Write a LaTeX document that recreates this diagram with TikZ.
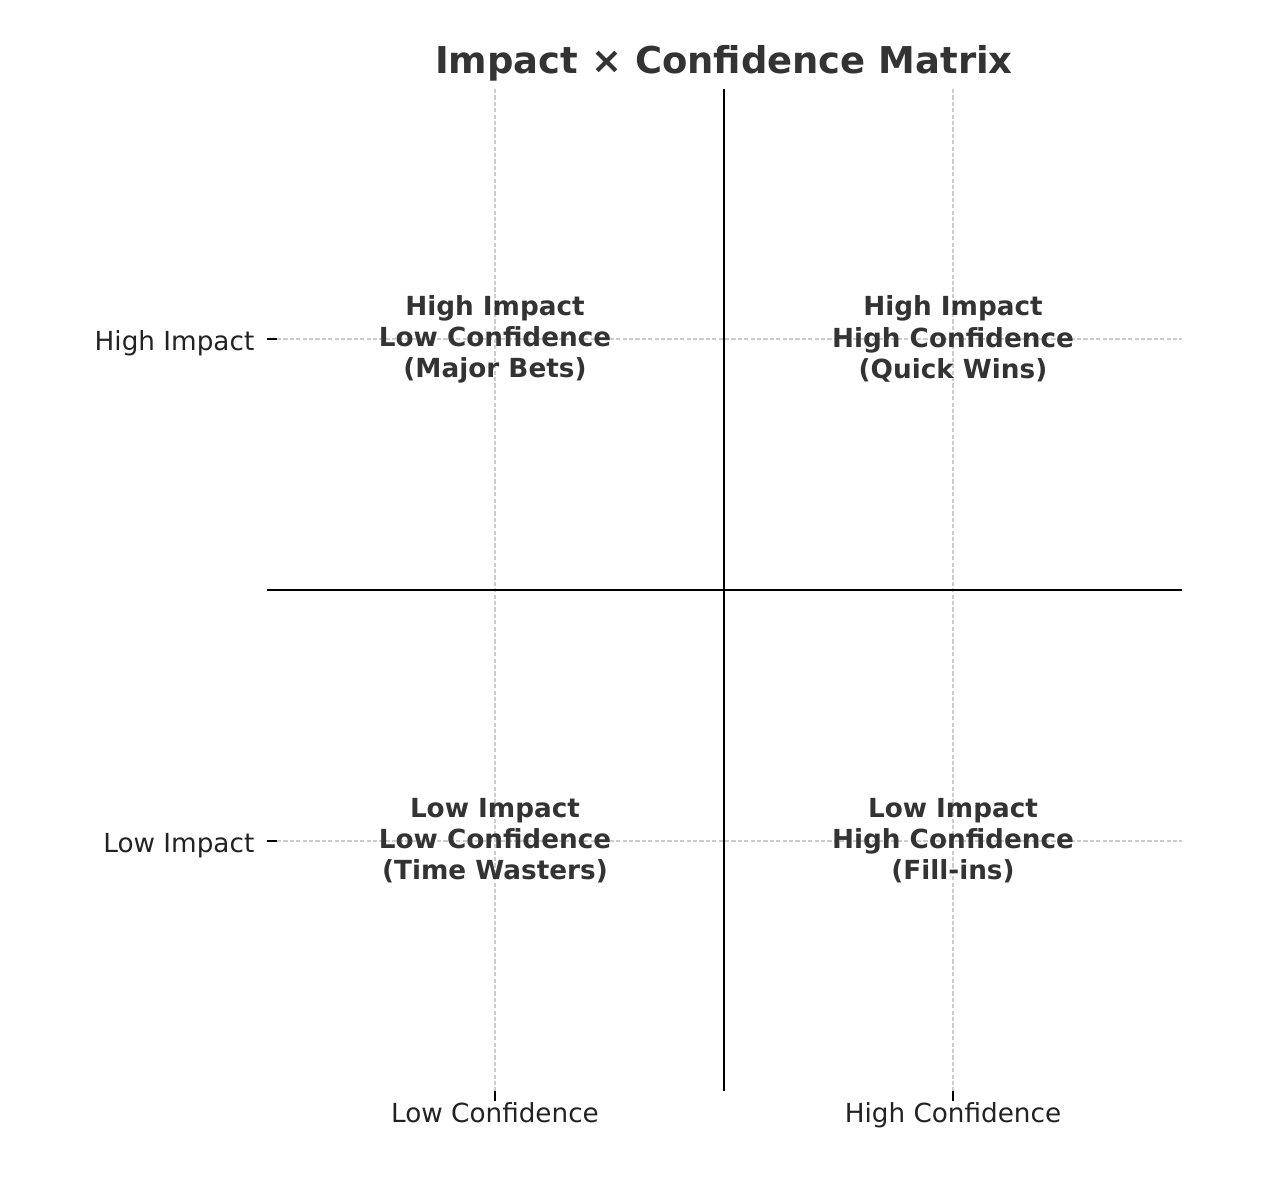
\documentclass[tikz,border=0pt]{standalone}
\usepackage{fontspec}
\setmainfont{DejaVu Sans}
\definecolor{txtgray}{HTML}{333333}
\definecolor{gridgray}{HTML}{CCCCCC}
\definecolor{ticktxt}{HTML}{222222}
\tikzset{
  quadlabel/.style={align=center, text=txtgray,
    font=\fontsize{19.7}{23.3}\selectfont\bfseries},
  ticklabel/.style={text=ticktxt, font=\fontsize{19.7}{23.3}\selectfont},
  gridline/.style={gridgray, line width=0.8pt, dash pattern=on 3.2pt off 1.6pt},
  axisline/.style={black, line width=1.5pt},
  tickmark/.style={black, line width=0.9pt}
}
\begin{document}
\begin{tikzpicture}[x=0.75pt, y=-0.75pt]
  \useasboundingbox (0,0) rectangle (1280,1184);

  % Title
  \node[font=\fontsize{27.7}{32}\selectfont\bfseries, text=txtgray] (title) at (724,63) {Impact × Confidence Matrix};

  % Grid
  \foreach \x in {495,953}
    \draw[gridline] (\x,89) -- (\x,1091);
  \foreach \y in {339,841}
    \draw[gridline] (277,\y) -- (1182,\y);

  % Axes
  \coordinate (left) at (267,590);
  \coordinate (right) at (1182,590);
  \coordinate (top) at (724,89);
  \coordinate (bottom) at (724,1091);
  \draw[axisline] (left) -- (right);
  \draw[axisline] (top) -- (bottom);

  % Ticks and tick labels
  \foreach \y/\lab/\nm in {339/High Impact/hi, 841/Low Impact/lo} {
    \draw[tickmark] (267,\y) -- (277,\y);
    \node[ticklabel, anchor=base east] (tick-\nm) at (259,\y+11) {\lab};
  }
  \foreach \x/\lab/\nm in {495/Low Confidence/lc, 953/High Confidence/hc} {
    \draw[tickmark] (\x,1091) -- (\x,1101);
    \node[ticklabel, anchor=base] (tick-\nm) at (\x,1122) {\lab};
  }

  % Quadrants
  \node[quadlabel] (majorbets) at (495,339) {High Impact\\Low Confidence\\(Major Bets)};
  \node[quadlabel] (quickwins) at (953,339) {High Impact\\High Confidence\\(Quick Wins)};
  \node[quadlabel] (timewasters) at (495,841) {Low Impact\\Low Confidence\\(Time Wasters)};
  \node[quadlabel] (fillins) at (953,841) {Low Impact\\High Confidence\\(Fill-ins)};
\end{tikzpicture}
\end{document}
